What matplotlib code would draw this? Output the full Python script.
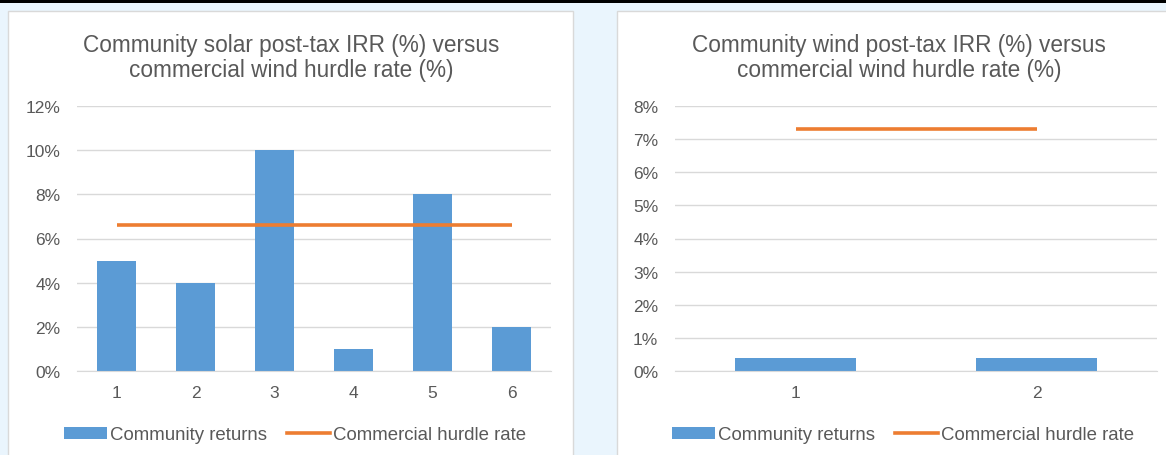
import matplotlib
matplotlib.use("Agg")
import matplotlib.pyplot as plt
from matplotlib.patches import Rectangle, Patch
from matplotlib.lines import Line2D

# Data
solar_projects = ["1", "2", "3", "4", "5", "6"]
solar_irr = [5, 4, 10, 1, 8, 2]
solar_hurdle = [6.6, 6.6, 6.6, 6.6, 6.6, 6.6]
solar_yticks = [0, 2, 4, 6, 8, 10, 12]

wind_projects = ["1", "2"]
wind_irr = [0.4, 0.4]
wind_hurdle = [7.3, 7.3]
wind_yticks = [0, 1, 2, 3, 4, 5, 6, 7, 8]

solar_title = "Community solar post-tax IRR (%) versus\ncommercial wind hurdle rate (%)"
wind_title = "Community wind post-tax IRR (%) versus\ncommercial wind hurdle rate (%)"
bar_label = "Community returns"
line_label = "Commercial hurdle rate"

BLUE = "#5B9BD5"
ORANGE = "#ED7D31"
TEXT = "#595959"
GRID = "#D9D9D9"
BG = "#EAF5FD"

plt.rcParams["font.family"] = ["Liberation Sans", "DejaVu Sans"]

W, H = 1166, 456
fig = plt.figure(figsize=(W / 100, H / 100), dpi=100)
fig.patch.set_facecolor(BG)


def px_rect(x0, y0, x1, y1):
    """Convert pixel box (top-left origin) to figure fraction [l, b, w, h]."""
    return [x0 / W, 1 - y1 / H, (x1 - x0) / W, (y1 - y0) / H]


# background layer: top rule and white chart panels
bg_ax = fig.add_axes([0, 0, 1, 1], zorder=-10)
bg_ax.set_xlim(0, W)
bg_ax.set_ylim(H, 0)
bg_ax.axis("off")
bg_ax.add_patch(Rectangle((0, 1), W, 3, facecolor="black", edgecolor="none"))
for x0, x1 in [(8, 573), (617, 1172)]:
    bg_ax.add_patch(Rectangle((x0, 12), x1 - x0, 460 - 12, facecolor="white",
                              edgecolor=GRID, linewidth=1))


def draw_chart(rect, cats, vals, hurdle, yticks, title, title_x, legend_x):
    ax = fig.add_axes(px_rect(*rect))
    ax.set_facecolor("none")
    x = list(range(1, len(cats) + 1))
    ax.bar(x, vals, width=0.5, color=BLUE, zorder=2)
    ax.plot(x, hurdle, color=ORANGE, linewidth=2.6, zorder=3, solid_capstyle="butt")
    ax.set_xlim(0.5, len(cats) + 0.5)
    ax.set_ylim(yticks[0], yticks[-1])
    ax.set_yticks(yticks)
    ax.set_yticklabels([f"{t}%" for t in yticks])
    ax.set_xticks(x)
    ax.set_xticklabels(cats)
    ax.grid(axis="y", color=GRID, linewidth=1, zorder=0)
    ax.set_axisbelow(True)
    for s in ["top", "right", "left"]:
        ax.spines[s].set_visible(False)
    ax.spines["bottom"].set_color(GRID)
    ax.tick_params(axis="both", length=0, labelsize=12.5, colors=TEXT)
    ax.tick_params(axis="y", pad=12)
    ax.tick_params(axis="x", pad=10)
    fig.text(title_x / W, 1 - 58 / H, title, ha="center", va="center",
             fontsize=16.3, color=TEXT, linespacing=1.15)
    handles = [Patch(facecolor=BLUE, edgecolor="none", label=bar_label),
               Line2D([0], [0], color=ORANGE, linewidth=2.6, label=line_label)]
    fig.legend(handles=handles, loc="center", ncol=2, frameon=False,
               bbox_to_anchor=(legend_x / W, 1 - 436 / H), fontsize=13.4,
               labelcolor=TEXT, handlelength=2.3, handleheight=0.55,
               handletextpad=0.15, columnspacing=1.1)
    return ax


draw_chart((77, 107, 551, 372), solar_projects, solar_irr, solar_hurdle,
           solar_yticks, solar_title, 291, 295)
draw_chart((675, 107, 1157, 372), wind_projects, wind_irr, wind_hurdle,
           wind_yticks, wind_title, 899, 903)

fig.savefig("out.png", dpi=100, facecolor=fig.get_facecolor())
